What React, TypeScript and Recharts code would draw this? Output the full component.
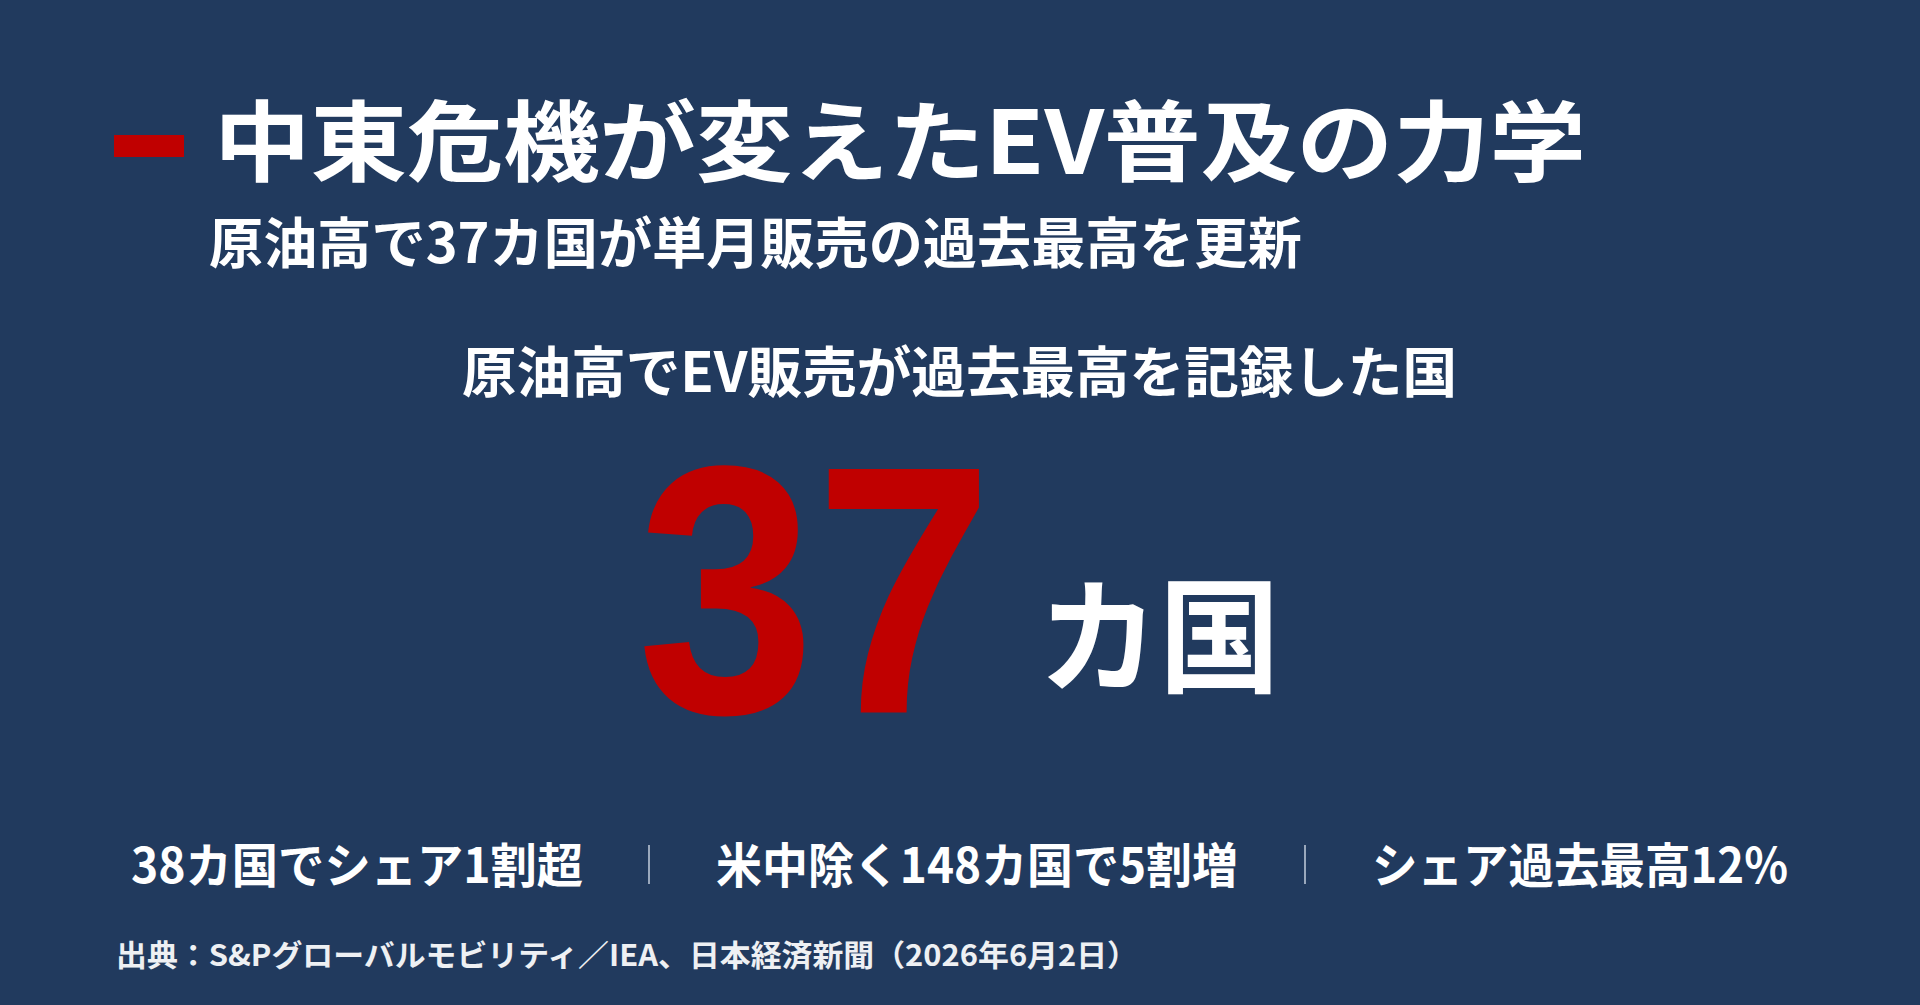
import { Surface, Rectangle } from "recharts"

const W = 1920
const H = 1005

const titleLines = ["中東危機が変えたEV普及の力学", "原油高で37カ国が単月販売の過去最高を更新"]
const headlineLabel = "原油高でEV販売が過去最高を記録した国"
const headlineValues = [37]
const headlineUnits = ["カ国"]
const statLabels = ["38カ国でシェア1割超", "米中除く148カ国で5割増", "シェア過去最高12%"]
const sourceNote = "出典：S&Pグローバルモビリティ／IEA、日本経済新聞（2026年6月2日）"

const BG = "#213a5e"
const RED = "#c00000"
const JP = "'Noto Sans CJK JP', 'Noto Sans', sans-serif"

// horizontal slots for the stat row: [left, width]
const statSlots: [number, number][] = [
  [131, 452],
  [716, 522],
  [1372, 416],
]
const dividerX = [649, 1305]

export default function App() {
  return (
    <div style={{ position: "absolute", left: 0, top: 0, width: W, height: H, background: BG }}>
      <Surface width={W} height={H} viewBox={{ x: 0, y: 0, width: W, height: H }}>
        <rect x={0} y={0} width={W} height={H} fill={BG} />
        <Rectangle x={114} y={135} width={70} height={22} fill={RED} />

        <text
          x={214}
          y={135}
          fill="#fff"
          fontFamily={JP}
          fontWeight={700}
          fontSize={88}
          dominantBaseline="central"
          textLength={1372}
          lengthAdjust="spacingAndGlyphs"
        >
          {titleLines[0]}
        </text>
        <text
          x={209}
          y={239}
          fill="#fff"
          fontFamily={JP}
          fontWeight={700}
          fontSize={55}
          dominantBaseline="central"
          textLength={1093}
          lengthAdjust="spacingAndGlyphs"
        >
          {titleLines[1]}
        </text>

        <text
          x={462}
          y={368}
          fill="#fff"
          fontFamily={JP}
          fontWeight={700}
          fontSize={55}
          dominantBaseline="central"
          textLength={995}
          lengthAdjust="spacingAndGlyphs"
        >
          {headlineLabel}
        </text>

        <text
          x={637}
          y={590}
          fill={RED}
          fontFamily="'Liberation Sans', Arial, sans-serif"
          fontWeight={700}
          fontSize={354}
          dominantBaseline="central"
          textLength={356}
          lengthAdjust="spacingAndGlyphs"
        >
          {headlineValues[0]}
        </text>
        <text
          x={1038}
          y={628}
          fill="#fff"
          fontFamily={JP}
          fontWeight={700}
          fontSize={125}
          dominantBaseline="central"
          textLength={242}
          lengthAdjust="spacingAndGlyphs"
        >
          {headlineUnits[0]}
        </text>

        {statLabels.map((s, i) => (
          <text
            key={s}
            x={statSlots[i][0]}
            y={862}
            fill="#fff"
            fontFamily={JP}
            fontWeight={700}
            fontSize={48}
            dominantBaseline="central"
            textLength={statSlots[i][1]}
            lengthAdjust="spacingAndGlyphs"
          >
            {s}
          </text>
        ))}
        {dividerX.map((x) => (
          <line key={x} x1={x} x2={x} y1={845} y2={884} stroke="#9aa8bc" strokeWidth={2} />
        ))}

        <text
          x={116}
          y={953}
          fill="#eef0f3"
          fontFamily={JP}
          fontWeight={700}
          fontSize={30}
          dominantBaseline="central"
          textLength={1022}
          lengthAdjust="spacingAndGlyphs"
        >
          {sourceNote}
        </text>
      </Surface>
    </div>
  )
}
